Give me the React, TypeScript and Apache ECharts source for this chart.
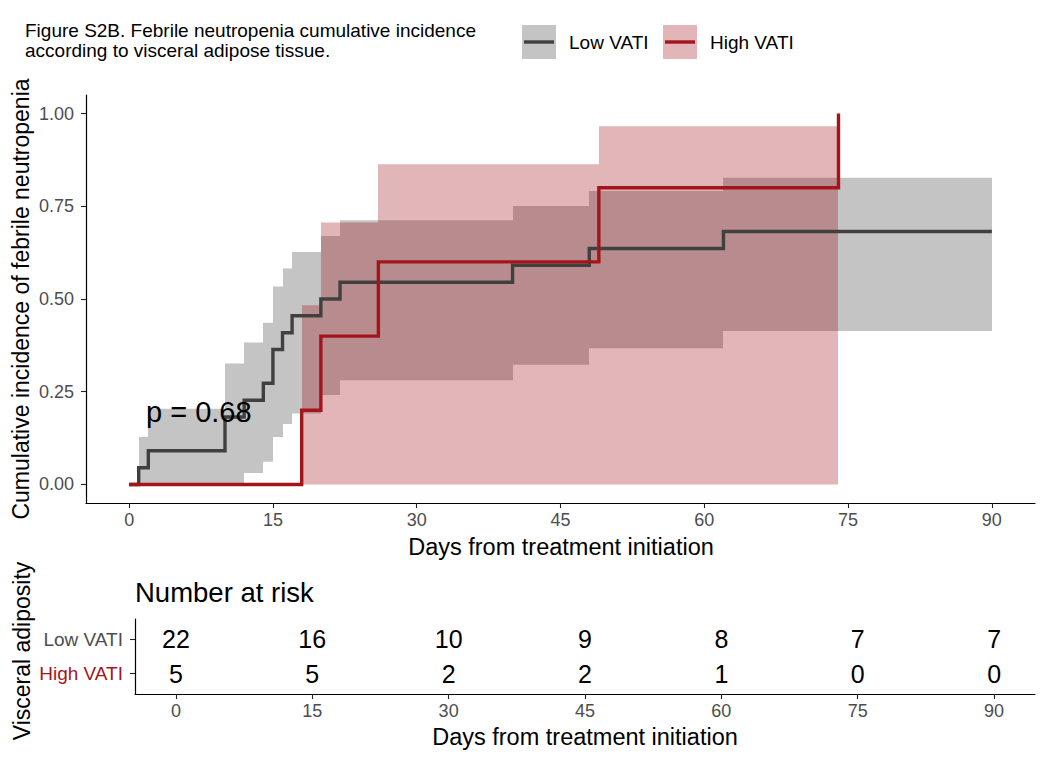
import { useEffect, useRef } from 'react'
import * as echarts from 'echarts'

const FONT = '"Liberation Sans", Arial, Helvetica, sans-serif'

// Low VATI cumulative incidence (step function)
const lowTimes = [0, 1, 2, 10, 12, 14, 15, 16, 17, 20, 22, 40, 48, 62, 90]
const lowIncidence = [0, 0.045, 0.091, 0.182, 0.227, 0.273, 0.364, 0.409, 0.455, 0.5, 0.545, 0.591, 0.636, 0.682, 0.682]
// Low VATI confidence band, each interval runs until the next start (last one to lowBandEnd)
const lowBandTimes = [1, 2, 10, 12, 14, 15, 16, 17, 20, 22, 40, 48, 62]
const lowBandEnd = 90
const lowLower = [0, 0, 0, 0.031, 0.061, 0.128, 0.163, 0.191, 0.241, 0.281, 0.323, 0.367, 0.414]
const lowUpper = [0.128, 0.204, 0.326, 0.383, 0.436, 0.534, 0.582, 0.627, 0.67, 0.712, 0.751, 0.791, 0.827]

// High VATI
const highTimes = [0, 18, 20, 26, 49, 74]
const highIncidence = [0, 0.2, 0.4, 0.6, 0.8, 1]
const highBandTimes = [18, 20, 26, 49]
const highBandEnd = 74
const highLower = [0, 0, 0, 0]
const highUpper = [0.483, 0.706, 0.863, 0.966]

const xTicks = [0, 15, 30, 45, 60, 75, 90]
const yTicks = [0, 0.25, 0.5, 0.75, 1]

// Number at risk table
const groups = ['Low VATI', 'High VATI']
const riskTimes = [0, 15, 30, 45, 60, 75, 90]
const lowAtRisk = [22, 16, 10, 9, 8, 7, 7]
const highAtRisk = [5, 5, 2, 2, 1, 0, 0]

const pValue = 'p = 0.68'

const LOW_LINE = '#404040'
const HIGH_LINE = '#a3151b'
const LOW_BAND = '#c4c4c4'
const HIGH_BAND = 'rgba(154, 2, 12, 0.29)'
const HIGH_KEY = '#e2b6b9'

const bandData = (times: number[], end: number, lower: number[], upper: number[]) =>
  times.map((t, i) => [t, i + 1 < times.length ? times[i + 1] : end, lower[i], upper[i]])

const bandRender = (fill: string) => (_params: any, api: any) => {
  const p0 = api.coord([api.value(0), api.value(3)])
  const p1 = api.coord([api.value(1), api.value(2)])
  const x0 = Math.round(p0[0])
  const x1 = Math.round(p1[0])
  return {
    type: 'rect',
    shape: { x: x0, y: p0[1], width: x1 - x0, height: p1[1] - p0[1] },
    style: { fill }
  }
}

const axisCommon = {
  splitLine: { show: false },
  axisLine: { show: true, onZero: false, lineStyle: { color: '#000', width: 1.2 } },
  axisTick: { show: true, length: 5, lineStyle: { color: '#222', width: 1.1 } }
}

const centered = { align: 'center', verticalAlign: 'middle', textAlign: 'center', textVerticalAlign: 'middle' }
const middle = { verticalAlign: 'middle', textVerticalAlign: 'middle' }

export default function App() {
  const chartRef = useRef<HTMLDivElement>(null)

  useEffect(() => {
    if (!chartRef.current) return
    const chart = echarts.init(chartRef.current, null, { renderer: 'svg' })

    const riskData = [
      ...riskTimes.map((t, i) => [t, 0, lowAtRisk[i]]),
      ...riskTimes.map((t, i) => [t, 1, highAtRisk[i]])
    ]

    const option = {
      animation: false,
      backgroundColor: '#fff',
      textStyle: { fontFamily: FONT },
      grid: [
        { left: 86, right: 13, top: 95, bottom: 257 },
        { left: 135, right: 13, top: 619, bottom: 66 }
      ],
      xAxis: [
        {
          ...axisCommon,
          type: 'value',
          gridIndex: 0,
          min: -4.5,
          max: 94.5,
          axisTick: { ...axisCommon.axisTick, customValues: xTicks },
          axisLabel: { customValues: xTicks, margin: 8, fontSize: 18, color: '#4d4d4d', fontFamily: FONT }
        },
        {
          ...axisCommon,
          type: 'value',
          gridIndex: 1,
          min: -4.5,
          max: 94.5,
          axisTick: { ...axisCommon.axisTick, customValues: riskTimes },
          axisLabel: { customValues: riskTimes, margin: 8, fontSize: 18, color: '#4d4d4d', fontFamily: FONT }
        }
      ],
      yAxis: [
        {
          ...axisCommon,
          type: 'value',
          gridIndex: 0,
          min: -0.05,
          max: 1.05,
          axisTick: { ...axisCommon.axisTick, customValues: yTicks },
          axisLabel: {
            customValues: yTicks,
            margin: 12,
            fontSize: 18,
            color: '#4d4d4d',
            fontFamily: FONT,
            formatter: (v: number) => v.toFixed(2)
          }
        },
        {
          ...axisCommon,
          type: 'value',
          gridIndex: 1,
          min: -0.6,
          max: 1.6,
          inverse: true,
          axisTick: { ...axisCommon.axisTick, customValues: [0, 1] },
          axisLabel: {
            customValues: [0, 1],
            margin: 12,
            fontFamily: FONT,
            formatter: (v: number) => (Math.round(v) === 0 ? `{low|${groups[0]}}` : `{high|${groups[1]}}`),
            rich: {
              low: { fontSize: 19, color: '#4d4d4d', fontFamily: FONT },
              high: { fontSize: 19, color: HIGH_LINE, fontFamily: FONT }
            }
          }
        }
      ],
      series: [
        {
          type: 'custom',
          xAxisIndex: 0,
          yAxisIndex: 0,
          encode: { x: [0, 1], y: [2, 3] },
          data: bandData(lowBandTimes, lowBandEnd, lowLower, lowUpper),
          renderItem: bandRender(LOW_BAND),
          silent: true
        },
        {
          type: 'line',
          name: groups[0],
          xAxisIndex: 0,
          yAxisIndex: 0,
          step: 'end',
          symbol: 'none',
          data: lowTimes.map((t, i) => [t, lowIncidence[i]]),
          lineStyle: { color: LOW_LINE, width: 3.4, cap: 'butt', join: 'miter' },
          itemStyle: { color: LOW_LINE }
        },
        {
          type: 'custom',
          xAxisIndex: 0,
          yAxisIndex: 0,
          encode: { x: [0, 1], y: [2, 3] },
          data: bandData(highBandTimes, highBandEnd, highLower, highUpper),
          renderItem: bandRender(HIGH_BAND),
          silent: true
        },
        {
          type: 'line',
          name: groups[1],
          xAxisIndex: 0,
          yAxisIndex: 0,
          step: 'end',
          symbol: 'none',
          data: highTimes.map((t, i) => [t, highIncidence[i]]),
          lineStyle: { color: HIGH_LINE, width: 3.4, cap: 'butt', join: 'miter' },
          itemStyle: { color: HIGH_LINE }
        },
        {
          type: 'custom',
          xAxisIndex: 1,
          yAxisIndex: 1,
          data: riskData,
          renderItem: (_params: any, api: any) => {
            const p = api.coord([api.value(0), api.value(1)])
            return {
              type: 'text',
              x: p[0],
              y: p[1],
              style: {
                text: String(api.value(2)),
                font: `25px ${FONT}`,
                fill: '#000',
                ...centered
              }
            }
          }
        }
      ],
      graphic: [
        {
          type: 'text',
          x: 25,
          y: 20,
          style: {
            text: 'Figure S2B. Febrile neutropenia cumulative incidence\naccording to visceral adipose tissue.',
            font: `19px ${FONT}`,
            lineHeight: 20,
            fill: '#000'
          }
        },
        // legend
        { type: 'rect', shape: { x: 522, y: 25, width: 34, height: 34 }, style: { fill: LOW_BAND } },
        { type: 'line', shape: { x1: 524, y1: 42, x2: 554, y2: 42 }, style: { stroke: LOW_LINE, lineWidth: 3.4 } },
        {
          type: 'text',
          x: 569,
          y: 42,
          style: { text: groups[0], font: `19px ${FONT}`, fill: '#000', ...middle }
        },
        { type: 'rect', shape: { x: 663, y: 25, width: 34, height: 34 }, style: { fill: HIGH_KEY } },
        { type: 'line', shape: { x1: 665, y1: 42, x2: 695, y2: 42 }, style: { stroke: HIGH_LINE, lineWidth: 3.4 } },
        {
          type: 'text',
          x: 710,
          y: 42,
          style: { text: groups[1], font: `19px ${FONT}`, fill: '#000', ...middle }
        },
        // axis titles
        {
          type: 'text',
          x: 21,
          y: 299,
          rotation: Math.PI / 2,
          style: { text: 'Cumulative incidence of febrile neutropenia', font: `23px ${FONT}`, fill: '#000', ...centered }
        },
        {
          type: 'text',
          x: 561,
          y: 547,
          style: { text: 'Days from treatment initiation', font: `23.5px ${FONT}`, fill: '#000', ...centered }
        },
        {
          type: 'text',
          x: 146,
          y: 412,
          z: 100,
          style: { text: pValue, font: `29px ${FONT}`, fill: '#000', ...middle }
        },
        {
          type: 'text',
          x: 135,
          y: 592,
          style: { text: 'Number at risk', font: `27.5px ${FONT}`, fill: '#000', ...middle }
        },
        {
          type: 'text',
          x: 22,
          y: 651,
          rotation: Math.PI / 2,
          style: { text: 'Visceral adiposity', font: `23px ${FONT}`, fill: '#000', ...centered }
        },
        {
          type: 'text',
          x: 585,
          y: 737,
          style: { text: 'Days from treatment initiation', font: `23.5px ${FONT}`, fill: '#000', ...centered }
        }
      ]
    }

    chart.setOption(option)

    return () => {
      chart.dispose()
    }
  }, [])

  return (
    <div
      ref={chartRef}
      style={{ position: 'absolute', left: 0, top: 0, width: '1048px', height: '760px' }}
    />
  )
}
